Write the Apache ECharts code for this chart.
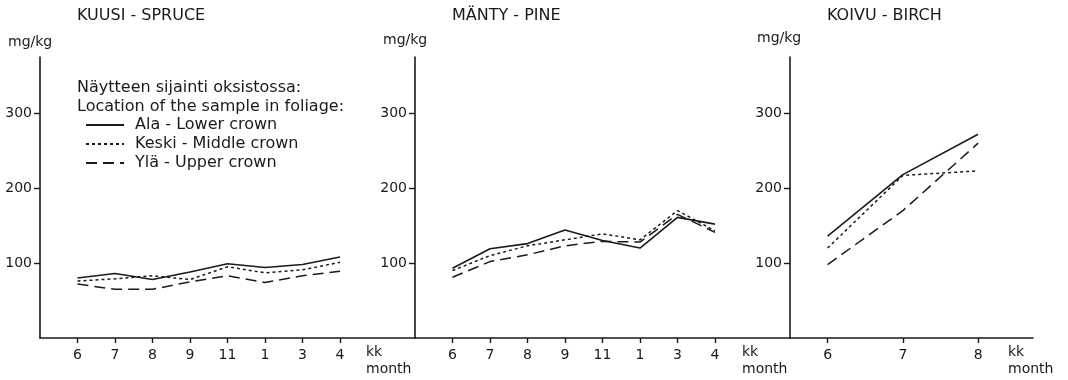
<!DOCTYPE html>
<html>
<head>
<meta charset="utf-8">
<script src="https://cdn.jsdelivr.net/npm/echarts@6/dist/echarts.min.js"></script>
<style>
html,body{margin:0;padding:0;background:#fff;}
#c{width:1068px;height:380px;}
</style>
</head>
<body>
<div id="c"></div>
<script>
// ---- data ----
const months = ['6', '7', '8', '9', '11', '1', '3', '4'];
const birchMonths = ['6', '7', '8'];
const yTicks = [100, 200, 300];
const seriesNames = ['Ala - Lower crown', 'Keski - Middle crown', 'Ylä - Upper crown'];
const panelTitles = ['KUUSI - SPRUCE', 'MÄNTY - PINE', 'KOIVU - BIRCH'];
const legendHeader = ['Näytteen sijainti oksistossa:', 'Location of the sample in foliage:'];

const spruceLower  = [80, 86, 78, 88, 99, 94, 98, 108];
const spruceMiddle = [76, 79, 83, 78, 95, 87, 91, 101];
const spruceUpper  = [72, 65, 65, 75, 83, 74, 83, 89];

const pineLower  = [93, 119, 126, 144, 130, 120, 161, 152];
const pineMiddle = [90, 110, 123, 131, 139, 131, 170, 143];
const pineUpper  = [81, 102, 111, 123, 129, 128, 165, 141];

const birchLower  = [136, 218, 272];
const birchMiddle = [120, 217, 223];
const birchUpper  = [98, 170, 260];

// ---- styling ----
const INK = '#1a1a1a';
const FONT = 'DejaVu Sans';
const lineTypes = ['solid', [3, 3], [11, 6]];

function pts(arr) { return arr.map((v, i) => [i, v]); }

const panels = [
  { cats: months, data: [spruceLower, spruceMiddle, spruceUpper], left: 40, right: 415, xmin: -1, xmax: 9 },
  { cats: months, data: [pineLower, pineMiddle, pineUpper], left: 415, right: 790, xmin: -1, xmax: 9 },
  { cats: birchMonths, data: [birchLower, birchMiddle, birchUpper], left: 790, right: 1033, xmin: -0.5, xmax: 2.73 }
];

const W = 1068, H = 380, AXIS_Y = 338, TOP = 57;

const grid = [], xAxis = [], yAxis = [], series = [];
panels.forEach((p, k) => {
  grid.push({ left: p.left, right: W - p.right, top: TOP, bottom: H - AXIS_Y, containLabel: false });
  const idx = p.cats.map((c, i) => i);
  xAxis.push({
    type: 'value', gridIndex: k, min: p.xmin, max: p.xmax,
    axisLine: { show: true, onZero: false, lineStyle: { color: INK, width: 1.6 } },
    splitLine: { show: false },
    axisTick: { show: true, customValues: idx, length: 5, lineStyle: { color: INK, width: 1.4 } },
    axisLabel: { customValues: idx, formatter: v => p.cats[Math.round(v)], color: INK, fontSize: 14, fontFamily: FONT, margin: 10 }
  });
  yAxis.push({
    type: 'value', gridIndex: k, min: 0, max: 375,
    axisLine: { show: true, onZero: false, lineStyle: { color: INK, width: 1.6 } },
    splitLine: { show: false },
    axisTick: { show: true, customValues: yTicks, length: 6, lineStyle: { color: INK, width: 1.4 } },
    axisLabel: { customValues: yTicks, color: INK, fontSize: 14, fontFamily: FONT, margin: 8 }
  });
  p.data.forEach((arr, j) => {
    series.push({
      type: 'line', name: seriesNames[j], xAxisIndex: k, yAxisIndex: k,
      data: pts(arr), symbol: 'none', silent: true, animation: false,
      lineStyle: { color: INK, width: j === 0 ? 1.6 : 1.5, type: lineTypes[j] },
      itemStyle: { color: INK }
    });
  });
});

const ts = { color: INK, fontSize: 16, fontFamily: FONT, fontWeight: 'normal' };
const title = [
  { text: panelTitles[0], left: 77, top: 7, fs: 16 },
  { text: panelTitles[1], left: 452, top: 7, fs: 16 },
  { text: panelTitles[2], left: 827, top: 7, fs: 16 },
  { text: 'mg/kg', left: 8, top: 34, fs: 14 },
  { text: 'mg/kg', left: 383, top: 32, fs: 14 },
  { text: 'mg/kg', left: 757, top: 30, fs: 14 },
  { text: legendHeader[0], left: 77, top: 79 },
  { text: legendHeader[1], left: 77, top: 98 },
  { text: 'kk\nmonth', left: 366, top: 344, fs: 14 },
  { text: 'kk\nmonth', left: 742, top: 344, fs: 14 },
  { text: 'kk\nmonth', left: 1008, top: 344, fs: 14 }
].map(t => {
  const style = Object.assign({ lineHeight: 17 }, ts);
  if (t.fs) style.fontSize = t.fs;
  return { text: t.text, left: t.left, top: t.top, padding: 0, textStyle: style };
});

const chart = echarts.init(document.getElementById('c'), null, { renderer: 'canvas' });
chart.setOption({
  backgroundColor: '#fff',
  animation: false,
  title,
  legend: {
    data: seriesNames, orient: 'vertical', left: 85, top: 117, padding: 0,
    itemWidth: 38, itemHeight: 14, itemGap: 3, selectedMode: false,
    itemStyle: { opacity: 0 },
    textStyle: { color: INK, fontSize: 16, lineHeight: 16, fontFamily: FONT, padding: [0, 0, 0, 6] }
  },
  grid, xAxis, yAxis, series
});
</script>
</body>
</html>
